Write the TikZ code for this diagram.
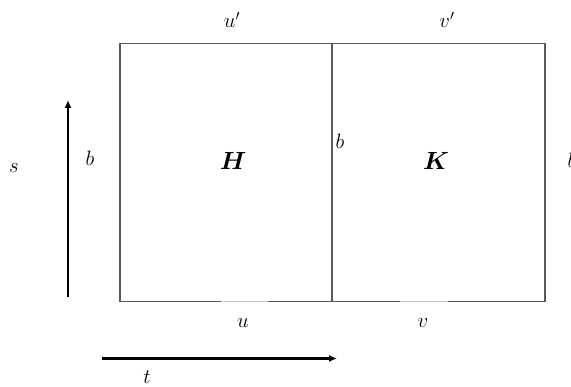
\documentclass[tikz,border=0pt]{standalone}
\usepackage{amsmath}
\usetikzlibrary{arrows.meta}
\begin{document}
\begin{tikzpicture}[x=1pt,y=-1pt,
  lbl/.style={inner sep=0pt,font=\fontsize{20.74}{24}\selectfont},
  big/.style={inner sep=0pt,font=\fontsize{24.88}{28}\selectfont\bfseries},
  edge/.style={draw=black!65,line width=1.1pt},
  faint/.style={draw=black!22,line width=1.1pt},
  axis/.style={draw=black,line width=2.2pt,-{Latex[length=8pt,width=7pt]}}]
\useasboundingbox (0,0) rectangle (571,387);
\clip (0,0) rectangle (571,387);
% corners
\coordinate (tl) at (120,43.5);
\coordinate (tm) at (332,43.5);
\coordinate (tr) at (545,43.5);
\coordinate (bl) at (120,301.5);
\coordinate (bm) at (332,301.5);
\coordinate (br) at (545,301.5);
\coordinate (g1) at (221,301.5);
\coordinate (g2) at (268,301.5);
\coordinate (g3) at (400,301.5);
\coordinate (g4) at (448,301.5);
\draw[edge] (g1) -- (bl) -- (tl) -- (tr) -- (br) -- (g4);
\draw[edge] (g3) -- (g2);
\draw[edge] (tm) -- (bm);
\draw[faint] (g1) -- (g2);
\draw[faint] (g3) -- (g4);
% axes
\coordinate (s0) at (68,297);
\coordinate (s1) at (68,100);
\coordinate (t0) at (102,358.5);
\coordinate (t1) at (337,358.5);
\draw[axis] (s0) -- (s1);
\draw[axis] (t0) -- (t1);
% labels
\node[lbl] (up) at (232,20) {$u'$};
\node[lbl] (vp) at (447,20) {$v'$};
\node[lbl] (s) at (14,168) {$s$};
\node[lbl] (bL) at (90,158) {$b$};
\node[lbl] (bM) at (340,141) {$b$};
\node[lbl,anchor=west] (bR) at (567.5,160) {$b$};
\node[big] (H) at (233,161) {$\boldsymbol{H}$};
\node[big] (K) at (436,161) {$\boldsymbol{K}$};
\node[lbl] (u) at (243,323) {$u$};
\node[lbl] (v) at (423,323) {$v$};
\node[lbl] (t) at (147,377.5) {$t$};
\end{tikzpicture}
\end{document}
